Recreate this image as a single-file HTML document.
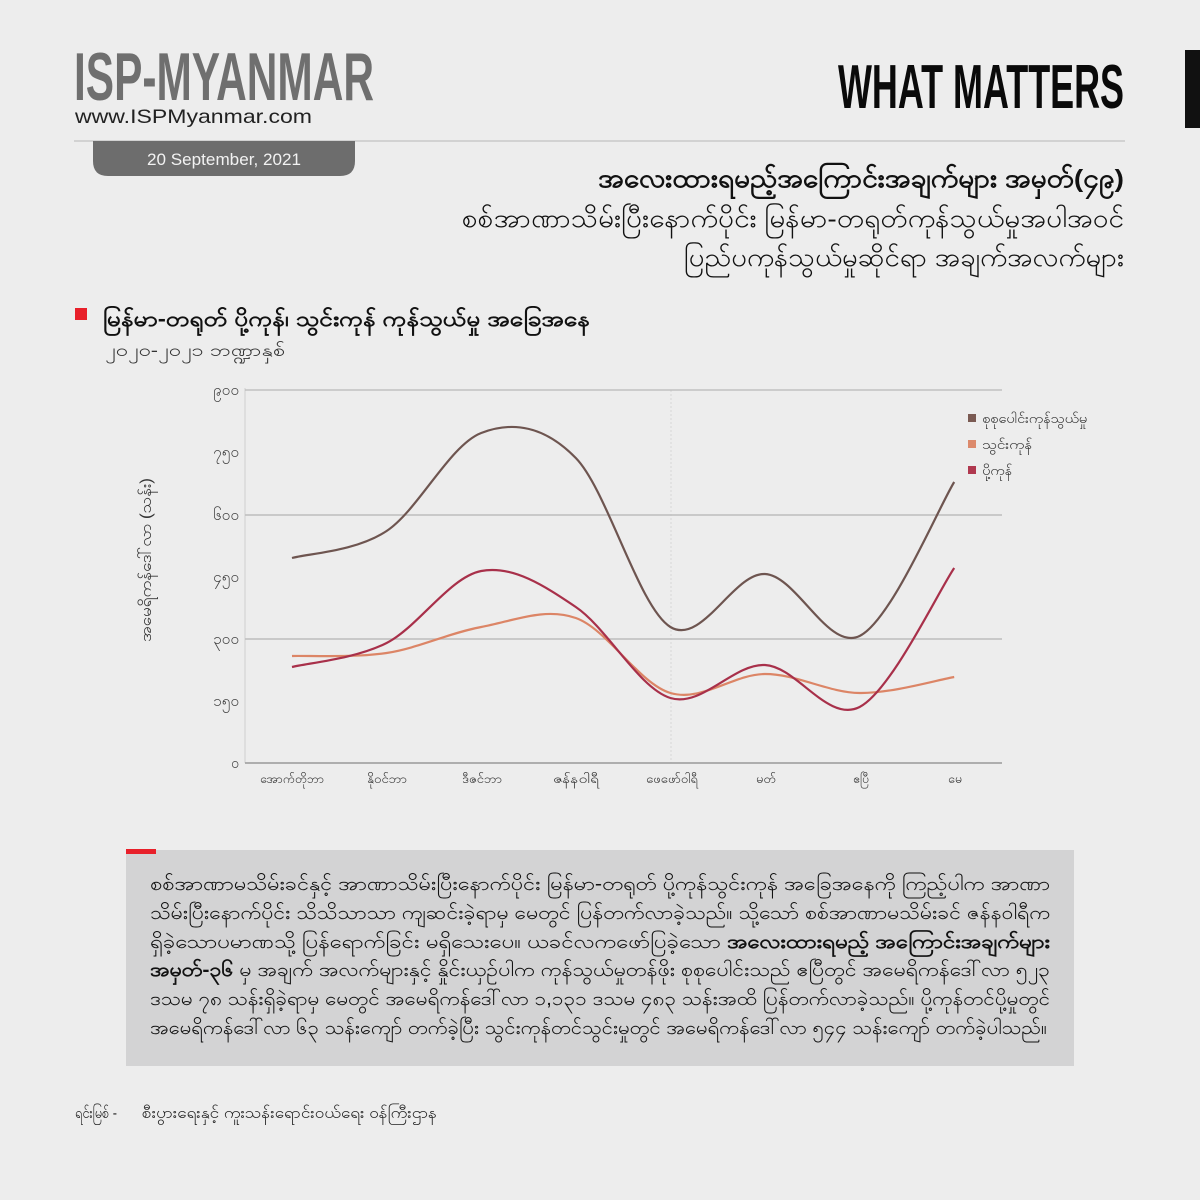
<!DOCTYPE html>
<html>
<head>
<meta charset="utf-8">
<style>
  html,body{margin:0;padding:0;background:#ededed;}
  svg{display:block;}
  .my{font-family:"Liberation Sans","Noto Sans CJK SC",sans-serif;}
</style>
</head>
<body>
<svg width="1200" height="1200" viewBox="0 0 1200 1200" xmlns="http://www.w3.org/2000/svg">
  <rect x="0" y="0" width="1200" height="1200" fill="#ededed"/>

  <!-- Header -->
  <text x="74" y="100" font-family="Liberation Sans, sans-serif" font-weight="bold" font-size="68" fill="#6f6f6f" textLength="300" lengthAdjust="spacingAndGlyphs">ISP-MYANMAR</text>
  <text x="75" y="123" font-family="Liberation Sans, sans-serif" font-size="19.5" fill="#222" textLength="237" lengthAdjust="spacingAndGlyphs">www.ISPMyanmar.com</text>
  <text x="838" y="108" font-family="Liberation Sans, sans-serif" font-weight="bold" font-size="62" fill="#0a0a0a" textLength="286" lengthAdjust="spacingAndGlyphs">WHAT MATTERS</text>
  <rect x="1185" y="50" width="15" height="78" fill="#111"/>
  <line x1="74" y1="141" x2="1125" y2="141" stroke="#c2c2c2" stroke-width="1.2"/>
  <path d="M93,141 H355 V161 Q355,176 340,176 H108 Q93,176 93,161 Z" fill="#6d6d6d"/>
  <text x="147" y="165" font-family="Liberation Sans, sans-serif" font-size="16.5" fill="#f2f2f2" textLength="154" lengthAdjust="spacingAndGlyphs">20 September, 2021</text>

  <!-- Title (right aligned) -->
  <text class="my" x="1124" y="187" text-anchor="end" font-size="25" font-weight="bold" fill="#111" textLength="526" lengthAdjust="spacingAndGlyphs">အလေးထားရမည့်အကြောင်းအချက်များ အမှတ်(၄၉)</text>
  <text class="my" x="1124" y="227" text-anchor="end" font-size="25" fill="#111" textLength="662" lengthAdjust="spacingAndGlyphs">စစ်အာဏာသိမ်းပြီးနောက်ပိုင်း မြန်မာ-တရုတ်ကုန်သွယ်မှုအပါအဝင်</text>
  <text class="my" x="1124" y="266" text-anchor="end" font-size="25" fill="#111" textLength="440" lengthAdjust="spacingAndGlyphs">ပြည်ပကုန်သွယ်မှုဆိုင်ရာ အချက်အလက်များ</text>

  <!-- Section heading -->
  <rect x="75" y="308" width="12" height="12" fill="#e8202a"/>
  <text class="my" x="103" y="326" font-size="21" font-weight="bold" fill="#111" textLength="487" lengthAdjust="spacingAndGlyphs">မြန်မာ-တရုတ် ပို့ကုန်၊ သွင်းကုန် ကုန်သွယ်မှု အခြေအနေ</text>
  <text class="my" x="105" y="356" font-size="17" fill="#333" textLength="180" lengthAdjust="spacingAndGlyphs">၂၀၂၀-၂၀၂၁ ဘဏ္ဍာနှစ်</text>

  <!-- Chart grid -->
  <line x1="245" y1="388" x2="245" y2="763" stroke="#d4d4d4" stroke-width="1.2"/>
  <line x1="671" y1="390" x2="671" y2="763" stroke="#d6d6d6" stroke-width="1" stroke-dasharray="2,2"/>
  <line x1="245" y1="390" x2="1002" y2="390" stroke="#b9b9b9" stroke-width="1.3"/>
  <line x1="245" y1="515" x2="1002" y2="515" stroke="#bdbdbd" stroke-width="1.5"/>
  <line x1="245" y1="639" x2="1002" y2="639" stroke="#bdbdbd" stroke-width="1.5"/>
  <line x1="245" y1="763" x2="1002" y2="763" stroke="#9a9a9a" stroke-width="1.5"/>

  <!-- Y tick labels -->
  <g class="my" font-size="15" fill="#444" text-anchor="end">
    <text x="239" y="395" textLength="26" lengthAdjust="spacingAndGlyphs">၉၀၀</text>
    <text x="239" y="457" textLength="26" lengthAdjust="spacingAndGlyphs">၇၅၀</text>
    <text x="239" y="520" textLength="26" lengthAdjust="spacingAndGlyphs">၆၀၀</text>
    <text x="239" y="582" textLength="26" lengthAdjust="spacingAndGlyphs">၄၅၀</text>
    <text x="239" y="644" textLength="26" lengthAdjust="spacingAndGlyphs">၃၀၀</text>
    <text x="239" y="706" textLength="26" lengthAdjust="spacingAndGlyphs">၁၅၀</text>
    <text x="239" y="768" textLength="8" lengthAdjust="spacingAndGlyphs">၀</text>
  </g>

  <!-- Y axis title -->
  <text class="my" transform="translate(151,560) rotate(-90)" text-anchor="middle" font-size="16" fill="#333" textLength="164" lengthAdjust="spacingAndGlyphs">အမေရိကန်ဒေါ်လာ (သန်း)</text>

  <!-- X labels -->
  <g class="my" font-size="12.5" fill="#333" text-anchor="middle">
    <text x="292" y="783" textLength="64" lengthAdjust="spacingAndGlyphs">အောက်တိုဘာ</text>
    <text x="387" y="783" textLength="40" lengthAdjust="spacingAndGlyphs">နိုဝင်ဘာ</text>
    <text x="482" y="783" textLength="40" lengthAdjust="spacingAndGlyphs">ဒီဇင်ဘာ</text>
    <text x="576" y="783" textLength="46" lengthAdjust="spacingAndGlyphs">ဇန်နဝါရီ</text>
    <text x="672" y="783" textLength="52" lengthAdjust="spacingAndGlyphs">ဖေဖော်ဝါရီ</text>
    <text x="766" y="783" textLength="20" lengthAdjust="spacingAndGlyphs">မတ်</text>
    <text x="861" y="783" textLength="16" lengthAdjust="spacingAndGlyphs">ဧပြီ</text>
    <text x="955" y="783" textLength="14" lengthAdjust="spacingAndGlyphs">မေ</text>
  </g>

  <!-- Series -->
  <path d="M292,558 C307.8,553.5 355.1,551.8 386.6,531 C418.1,510.2 449.7,445.2 481.2,433 C512.7,420.8 544.3,425.7 575.8,458 C607.3,490.3 638.9,607.7 670.4,627 C701.9,646.3 733.5,572.5 765,574 C796.5,575.5 828.1,651.3 859.6,636 C891.1,620.7 938.4,507.7 954.2,482" fill="none" stroke="#6e5550" stroke-width="2.2"/>
  <path d="M292,656 C307.8,655.5 355.1,657.8 386.6,653 C418.1,648.2 449.7,632.8 481.2,627 C512.7,621.2 544.3,607 575.8,618 C607.3,629 638.9,683.7 670.4,693 C701.9,702.3 733.5,674 765,674 C796.5,674 828.1,692.5 859.6,693 C891.1,693.5 938.4,679.7 954.2,677" fill="none" stroke="#dc8566" stroke-width="2.2"/>
  <path d="M292,667 C307.8,663 355.1,659 386.6,643 C418.1,627 449.7,577 481.2,571 C512.7,565 544.3,585.8 575.8,607 C607.3,628.2 638.9,688.3 670.4,698 C701.9,707.7 733.5,663.5 765,665 C796.5,666.5 828.1,723.2 859.6,707 C891.1,690.8 938.4,591.2 954.2,568" fill="none" stroke="#a8304a" stroke-width="2.2"/>

  <!-- Legend -->
  <rect x="968" y="414" width="8" height="8" fill="#7a5a52"/>
  <rect x="968" y="440" width="8" height="8" fill="#dc8a6c"/>
  <rect x="968" y="466" width="8" height="8" fill="#b0384f"/>
  <g class="my" font-size="13" fill="#333">
    <text x="982" y="423" textLength="105" lengthAdjust="spacingAndGlyphs">စုစုပေါင်းကုန်သွယ်မှု</text>
    <text x="982" y="449" textLength="50" lengthAdjust="spacingAndGlyphs">သွင်းကုန်</text>
    <text x="982" y="475" textLength="30" lengthAdjust="spacingAndGlyphs">ပို့ကုန်</text>
  </g>

  <!-- Summary box -->
  <rect x="126" y="850" width="948" height="216" fill="#d3d3d4"/>
  <rect x="126" y="849" width="30" height="5" fill="#e8202a"/>
  <g class="my" font-size="19" fill="#111">
    <text x="150" y="890" textLength="900" lengthAdjust="spacingAndGlyphs">စစ်အာဏာမသိမ်းခင်နှင့် အာဏာသိမ်းပြီးနောက်ပိုင်း မြန်မာ-တရုတ် ပို့ကုန်သွင်းကုန် အခြေအနေကို ကြည့်ပါက အာဏာ</text>
    <text x="150" y="919" textLength="900" lengthAdjust="spacingAndGlyphs">သိမ်းပြီးနောက်ပိုင်း သိသိသာသာ ကျဆင်းခဲ့ရာမှ မေတွင် ပြန်တက်လာခဲ့သည်။ သို့သော် စစ်အာဏာမသိမ်းခင် ဇန်နဝါရီက</text>
    <text x="150" y="948" textLength="900" lengthAdjust="spacingAndGlyphs">ရှိခဲ့သောပမာဏသို့ ပြန်ရောက်ခြင်း မရှိသေးပေ။ ယခင်လကဖော်ပြခဲ့သော <tspan font-weight="bold">အလေးထားရမည့် အကြောင်းအချက်များ</tspan></text>
    <text x="150" y="976" textLength="900" lengthAdjust="spacingAndGlyphs"><tspan font-weight="bold">အမှတ်-၃၆</tspan> မှ အချက် အလက်များနှင့် နှိုင်းယှဉ်ပါက ကုန်သွယ်မှုတန်ဖိုး စုစုပေါင်းသည် ဧပြီတွင် အမေရိကန်ဒေါ်လာ ၅၂၃</text>
    <text x="150" y="1005" textLength="900" lengthAdjust="spacingAndGlyphs">ဒသမ ၇၈ သန်းရှိခဲ့ရာမှ မေတွင် အမေရိကန်ဒေါ်လာ ၁,၁၃၁ ဒသမ ၄၈၃ သန်းအထိ ပြန်တက်လာခဲ့သည်။ ပို့ကုန်တင်ပို့မှုတွင်</text>
    <text x="150" y="1034" textLength="897" lengthAdjust="spacingAndGlyphs">အမေရိကန်ဒေါ်လာ ၆၃ သန်းကျော် တက်ခဲ့ပြီး သွင်းကုန်တင်သွင်းမှုတွင် အမေရိကန်ဒေါ်လာ ၅၄၄ သန်းကျော် တက်ခဲ့ပါသည်။</text>
  </g>

  <!-- Source -->
  <g class="my" font-size="15" fill="#222">
    <text x="75" y="1118" textLength="42" lengthAdjust="spacingAndGlyphs">ရင်းမြစ် -</text>
    <text x="142" y="1118" textLength="295" lengthAdjust="spacingAndGlyphs">စီးပွားရေးနှင့် ကူးသန်းရောင်းဝယ်ရေး ဝန်ကြီးဌာန</text>
  </g>
</svg>
</body>
</html>
